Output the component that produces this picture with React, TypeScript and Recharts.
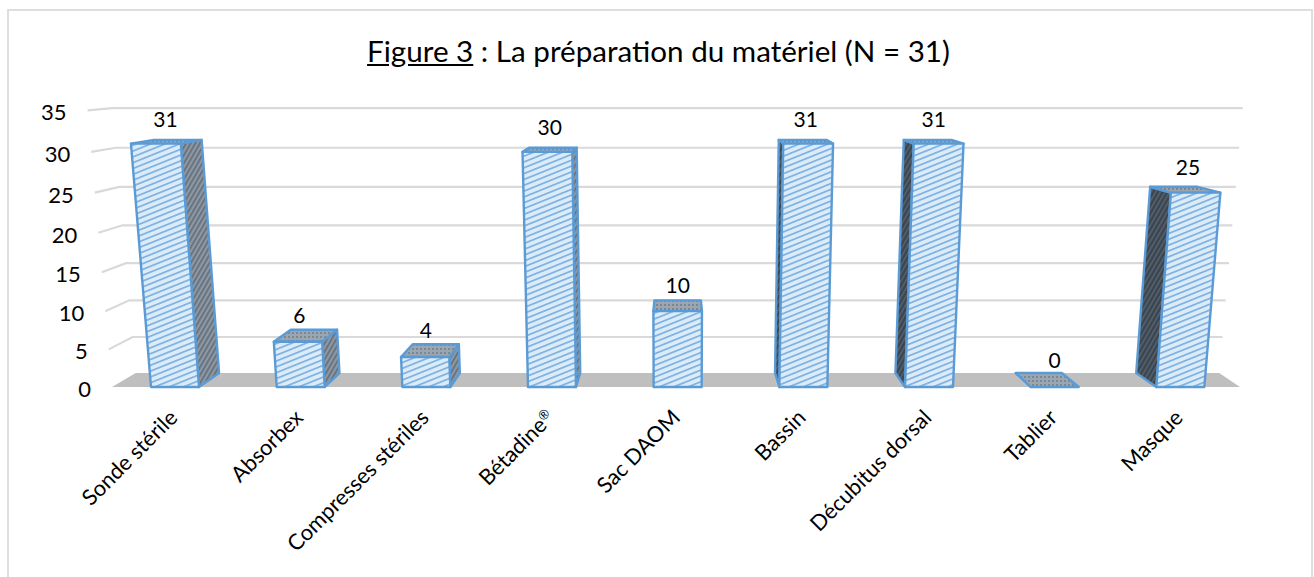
import { Bar, BarChart, CartesianGrid, LabelList, XAxis, YAxis } from "recharts";

const categories = [
  "Sonde stérile",
  "Absorbex",
  "Compresses stériles",
  "Bétadine®",
  "Sac DAOM",
  "Bassin",
  "Décubitus dorsal",
  "Tablier",
  "Masque",
];
const counts = [31, 6, 4, 30, 10, 31, 31, 0, 25];
const yTicks = [0, 5, 10, 15, 20, 25, 30, 35];

const chartData = categories.map((name, i) => ({ name, value: counts[i] }));

const WIDTH = 1314;
const HEIGHT = 577;
const BASE_Y = 387;

// fake 3D: the plot stays a flat recharts plot, this bends its pixels
const CENTER_X = 677;
const VANISH_Y = 54;
const BACK = 0.958;
const LEAN = 1.565e-4;
const STRETCH = 2.28e-4;

const project = (x: number, y: number, depth = 1) => {
  const h = BASE_Y - y;
  const h2 = h * (1 + STRETCH * h);
  const fx = CENTER_X + (x - CENTER_X) * (1 + LEAN * h2);
  const fy = BASE_Y - h2;
  return {
    x: CENTER_X + (fx - CENTER_X) * depth,
    y: VANISH_Y + (fy - VANISH_Y) * depth,
  };
};

const poly = (pts: { x: number; y: number }[]) =>
  pts.map((p) => `${p.x},${p.y}`).join(" ");

const GridLine = (props: any) => {
  const { x1, x2, y1, index } = props;
  const a = project(x1, y1);
  const b = project(x1, y1, BACK);
  const c = project(x2, y1, BACK);
  const isFloor = Math.abs(y1 - BASE_Y) < 1;
  if (isFloor) {
    const d = project(x2 - 3, y1);
    return <polygon key={index} points={poly([a, b, c, d])} fill="#bfbfbf" />;
  }
  return (
    <polyline
      key={index}
      points={poly([a, b, c])}
      fill="none"
      stroke="#d9d9d9"
      strokeWidth={2.2}
    />
  );
};

const Bar3D = (props: any) => {
  const { x, y, width, height } = props;
  const bottom = y + height;
  const right = x + width;
  const fbl = project(x, bottom);
  const fbr = project(right, bottom);
  const ftl = project(x, y);
  const ftr = project(right, y);
  const bbl = project(x, bottom, BACK);
  const bbr = project(right, bottom, BACK);
  const btl = project(x, y, BACK);
  const btr = project(right, y, BACK);
  const stroke = { stroke: "#5b9bd5", strokeWidth: 2.4, strokeLinejoin: "round" as const };
  const mid = x + width / 2;

  return (
    <g>
      {mid < CENTER_X - 5 && (
        <polygon points={poly([ftr, btr, bbr, fbr])} fill="url(#sideLight)" {...stroke} />
      )}
      {mid > CENTER_X + 5 && (
        <polygon points={poly([ftl, btl, bbl, fbl])} fill="url(#sideDark)" {...stroke} />
      )}
      <polygon points={poly([ftl, btl, btr, ftr])} fill="url(#topFace)" {...stroke} />
      {height > 0 && (
        <polygon points={poly([fbl, ftl, ftr, fbr])} fill="url(#frontFace)" {...stroke} />
      )}
    </g>
  );
};

const ValueLabel = (props: any) => {
  const { x, y, width, value } = props;
  const mid = x + width / 2;
  const front = project(mid, y);
  const top = project(x, y, BACK);
  const lift = 13 + (BASE_Y - top.y) * 0.035;
  return (
    <text
      x={(mid + front.x) / 2}
      y={top.y - lift}
      textAnchor="middle"
      dominantBaseline="central"
      fontFamily="Lato"
      fontSize={21}
      fill="#000"
    >
      {value}
    </text>
  );
};

const YTick = (props: any) => {
  const { y, payload } = props;
  const p = project(112, y);
  return (
    <text
      x={p.x - 21}
      y={p.y + 1.5}
      textAnchor="end"
      dominantBaseline="central"
      fontFamily="Lato"
      fontSize={22}
      fill="#000"
    >
      {payload.value}
    </text>
  );
};

const XTick = (props: any) => {
  const { x, payload } = props;
  const tx = x + 4;
  const ty = 419;
  const label: string = payload.value;
  const hasMark = label.endsWith("®");
  return (
    <text
      x={tx}
      y={ty}
      textAnchor="end"
      transform={`rotate(-45 ${tx} ${ty})`}
      fontFamily="Lato"
      fontSize={21.8}
      fill="#000"
    >
      {hasMark ? label.slice(0, -1) : label}
      {hasMark && (
        <tspan fontSize={13} dy={-7}>
          ®
        </tspan>
      )}
    </text>
  );
};

export default function App() {
  return (
    <div style={{ position: "absolute", left: 0, top: 0, width: WIDTH, height: HEIGHT, background: "#fff", overflow: "hidden" }}>
      <div
        style={{
          position: "absolute",
          left: 7,
          top: 9,
          width: 1302,
          height: 600,
          border: "2px solid #dedede",
        }}
      />
      <div
        style={{
          position: "absolute",
          left: 0,
          top: 31,
          width: 1317,
          textAlign: "center",
          fontFamily: "Lato",
          fontSize: 29.6,
          lineHeight: "40px",
          color: "#000",
        }}
      >
        <span style={{ textDecoration: "underline" }}>Figure 3</span> : La préparation du matériel (N = 31)
      </div>
      <div style={{ position: "absolute", left: 0, top: 0 }}>
        <BarChart
          width={WIDTH}
          height={HEIGHT}
          data={chartData}
          margin={{ top: 126, right: 71, bottom: 130, left: 52 }}
          barSize={48}
        >
          <CartesianGrid vertical={false} horizontal={GridLine} />
          <defs>
            <pattern id="frontFace" width="8" height="5.4" patternUnits="userSpaceOnUse" patternTransform="rotate(-22)">
              <rect width="8" height="5.4" fill="#dcebf8" />
              <rect width="8" height="1.7" fill="#7db1e2" />
            </pattern>
            <pattern id="sideLight" width="4" height="4" patternUnits="userSpaceOnUse" patternTransform="rotate(-60)">
              <rect width="4" height="4" fill="#8f98a1" />
              <rect width="4" height="1.6" fill="#5f6d7c" />
            </pattern>
            <pattern id="sideDark" width="4" height="4" patternUnits="userSpaceOnUse" patternTransform="rotate(-60)">
              <rect width="4" height="4" fill="#3a4550" />
              <rect width="4" height="1.6" fill="#56636f" />
            </pattern>
            <pattern id="topFace" width="4" height="4" patternUnits="userSpaceOnUse">
              <rect width="4" height="4" fill="#9ca6b0" />
              <rect width="2" height="2" fill="#7a8794" />
            </pattern>
          </defs>
          <XAxis dataKey="name" height={60} axisLine={false} tickLine={false} interval={0} tick={XTick} />
          <YAxis width={60} domain={[0, 35]} ticks={yTicks} axisLine={false} tickLine={false} tick={YTick} />
          <Bar dataKey="value" isAnimationActive={false} shape={Bar3D}>
            <LabelList dataKey="value" content={ValueLabel} />
          </Bar>
        </BarChart>
      </div>
    </div>
  );
}
